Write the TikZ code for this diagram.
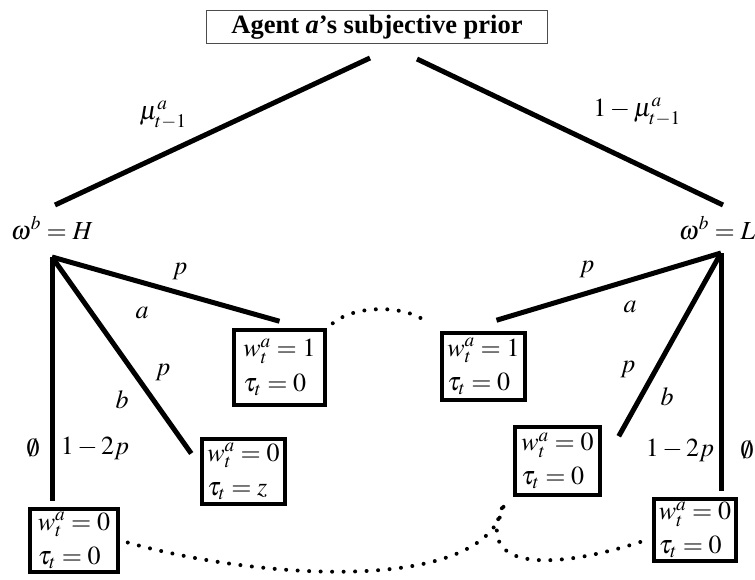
\documentclass[tikz,border=0pt]{standalone}
\usepackage{mathptmx}
\usepackage[no-math]{fontspec}
\setmainfont{Liberation Serif}
\begin{document}
\begin{tikzpicture}[x=1pt,y=-1pt,
  every node/.style={font=\fontsize{26}{30}\selectfont, inner sep=0pt},
  thickline/.style={line width=5pt},
  leaf/.style={draw, line width=3.5pt, align=left, inner sep=3pt},
  dotline/.style={line width=4pt, line cap=round, dash pattern=on 0pt off 11.5pt}]
\useasboundingbox (0,0) rectangle (755,580);
% title
\node[draw=gray!60!black, line width=1pt, minimum width=341pt, minimum height=33pt,
      font=\fontsize{26.5}{30}\selectfont\bfseries] (prior) at (377,27) {Agent \textit{a}'s subjective prior};
% state labels
\node (wH) at (52,228) {$\omega^b=H$};
\node (wL) at (717,228) {$\omega^b=L$};
\coordinate (Hn) at (52,257);
\coordinate (Ln) at (721,253);
\coordinate (pl) at (370,58);
\coordinate (pr) at (417,59);
\coordinate (tl) at (55,205);
\coordinate (tr) at (723,205);
\draw[thickline] (pl) -- (tl);
\draw[thickline] (pr) -- (tr);
\node (mu) at (163,115) {$\mu_{t-1}^a$};
\node (mu2) at (637,112) {$1-\mu_{t-1}^a$};
% outcome boxes
\node[leaf, minimum width=91pt, minimum height=75pt] (b1) at (279.5,367.5) {$w_t^a=1$\\[5pt]$\tau_t=0$};
\node[leaf, minimum width=83pt, minimum height=65pt] (b2) at (243.5,471.5) {$w_t^a=0$\\[4pt]$\tau_t=z$};
\node[leaf, minimum width=88pt, minimum height=63pt] (b3) at (74,540.5) {$w_t^a=0$\\[4pt]$\tau_t=0$};
\node[leaf, minimum width=83pt, minimum height=67pt] (b4) at (483.5,366.5) {$w_t^a=1$\\[4pt]$\tau_t=0$};
\node[leaf, minimum width=85pt, minimum height=68pt] (b5) at (557.5,461) {$w_t^a=0$\\[4pt]$\tau_t=0$};
\node[leaf, minimum width=82pt, minimum height=62pt] (b6) at (695,530) {$w_t^a=0$\\[4pt]$\tau_t=0$};
% branches from H
\draw[thickline] (Hn) -- ([yshift=7pt]b1.north);
\draw[thickline] (Hn) -- ([xshift=-9pt,yshift=18pt]b2.west);
\draw[thickline, shorten >=6pt] (Hn) -- (Hn |- b3.north);
% branches from L
\draw[thickline] (Ln) -- ([xshift=13pt,yshift=11pt]b4.north);
\draw[thickline] (Ln) -- ([xshift=17pt,yshift=-11pt]b5.north east);
\draw[thickline, shorten >=6pt] (Ln) -- (Ln |- b6.north);
% branch labels
\node (p1) at (180,272) {$p$};
\node (a1) at (142,313) {$a$};
\node (p2) at (163,373) {$p$};
\node (bb1) at (122,400) {$b$};
\node (e1) at (33,448) {$\emptyset$};
\node (q1) at (95,448) {$1-2p$};
\node (p3) at (587,270) {$p$};
\node (a2) at (630,307) {$a$};
\node (p4) at (628,370) {$p$};
\node (bb2) at (667,397) {$b$};
\node (q2) at (680,450) {$1-2p$};
\node (e2) at (747,450) {$\emptyset$};
% information sets
\draw[dotline] ([xshift=6pt,yshift=5pt]b1.north east) .. controls (355,305) and (402,305) .. ([xshift=-16pt,yshift=11pt]b4.north west);
\draw[dotline] ([xshift=8pt,yshift=-2pt]b3.east) .. controls (260,580) and (490,595) .. ([xshift=-9pt,yshift=-6pt]b5.south west);
\draw[dotline] ([xshift=-12pt,yshift=-12pt]b6.west) .. controls (560,568) and (470,575) .. ([xshift=-9pt,yshift=-6pt]b5.south west);
\end{tikzpicture}
\end{document}
